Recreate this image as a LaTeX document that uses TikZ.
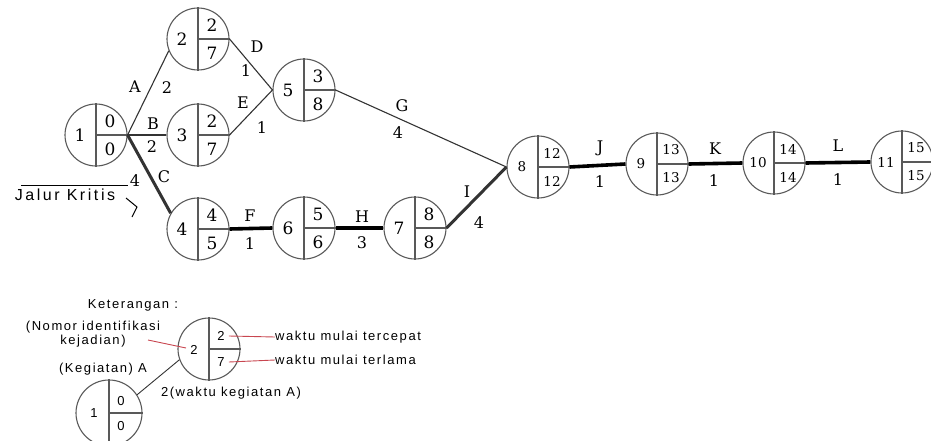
\documentclass[tikz,border=0pt]{standalone}
\usepackage{fontspec}
\setmainfont{DejaVu Serif}
\newfontfamily\lsans{Liberation Sans}[LetterSpace=12]
\newfontfamily\jsans{Liberation Sans}[LetterSpace=16]
\definecolor{legred}{RGB}{200,70,80}
\newcommand\ev[7]{%
 \node[evc] (#1) at (#2,#3) {};
 \draw[inl] (#1.north) -- (#1.south) (#1.center) -- (#1.east);
 \node[#7] (#1n) at ([xshift=-16pt]#1.center) {#4};
 \node[#7] (#1t) at ([xshift=14pt,yshift=14pt]#1.center) {#5};
 \node[#7] (#1b) at ([xshift=14pt,yshift=-14pt]#1.center) {#6};
}
\begin{document}
\begin{tikzpicture}[x=1pt,y=-1pt,
 evc/.style={circle,draw=black!65,line width=1.1pt,minimum size=62pt,inner sep=0pt},
 inl/.style={draw=black!65,line width=1.1pt},
 num/.style={inner sep=0pt,font=\fontsize{17}{17}\selectfont},
 nums/.style={inner sep=0pt,font=\fontsize{13.5}{14}\selectfont},
 lnum/.style={inner sep=0pt,font=\lsans\fontsize{13}{13}\selectfont},
 lab/.style={inner sep=0pt,font=\fontsize{16}{16}\selectfont},
 thinl/.style={draw=black!80,line width=1.1pt},
 crit/.style={draw=black,line width=3.6pt},
 critg/.style={draw=black!80,line width=3pt},
 legt/.style={inner sep=0pt,font=\lsans\fontsize{13}{14}\selectfont,align=center},
 redl/.style={draw=legred,line width=0.9pt}]
\useasboundingbox (0,0) rectangle (931,441);
% events
\ev{n1}{96}{135}{1}{0}{0}{num}
\ev{n2}{198}{39}{2}{2}{7}{num}
\ev{n3}{198}{135}{3}{2}{7}{num}
\ev{n4}{198}{229}{4}{4}{5}{num}
\ev{n5}{304}{90}{5}{3}{8}{num}
\ev{n6}{304}{228}{6}{5}{6}{num}
\ev{n7}{415}{228}{7}{8}{8}{num}
\ev{n8}{538}{167}{8}{12}{12}{nums}
\ev{n9}{657}{164}{9}{13}{13}{nums}
\ev{n10}{774}{163}{10}{14}{14}{nums}
\ev{n11}{902}{162}{11}{15}{15}{nums}
% activities
\draw[thinl] (n1.east) -- (n2.202);
\draw[thinl] (n1.east) -- (n3.west);
\draw[critg] (n1.east) -- (n4.150);
\draw[thinl] (n2.east) -- (n5.west);
\draw[thinl] (n3.east) -- (n5.west);
\draw[thinl] (n5.east) -- (n8.west);
\draw[crit] (n4.east) -- (n6.west);
\draw[crit] (n6.east) -- (n7.west);
\draw[critg] (n7.east) -- (n8.west);
\draw[crit] (n8.east) -- (n9.west);
\draw[crit] (n9.east) -- (n10.west);
\draw[crit] (n10.east) -- (n11.west);
% labels
\node[lab] (lA) at (135,87) {A};   \node[lab] (dA) at (167,88) {2};
\node[lab] (lB) at (153,124) {B};  \node[lab] (dB) at (152,147) {2};
\node[lab] (lC) at (164,177) {C};  \node[lab] (dC) at (135,181) {4};
\node[lab] (lD) at (257,47) {D};   \node[lab] (dD) at (246,71) {1};
\node[lab] (lE) at (243,103) {E};  \node[lab] (dE) at (262,128) {1};
\node[lab] (lF) at (250,216) {F};  \node[lab] (dF) at (250,244) {1};
\node[lab] (lG) at (402,106) {G};  \node[lab] (dG) at (398,133) {4};
\node[lab] (lH) at (362,217) {H};  \node[lab] (dH) at (362,243) {3};
\node[lab] (lI) at (467,192) {I};  \node[lab] (dI) at (479,223) {4};
\node[lab] (lJ) at (600,148) {J};  \node[lab] (dJ) at (600,182) {1};
\node[lab] (lK) at (715,149) {K};  \node[lab] (dK) at (714,181) {1};
\node[lab] (lL) at (838,146) {L};  \node[lab] (dL) at (838,180) {1};
% critical path note
\node[inner sep=0pt,font=\jsans\fontsize{16}{16}\selectfont] (jk) at (65,195) {Jalur Kritis};
\coordinate (jl1) at (21,185);
\coordinate (jl2) at (128,185);
\draw[line width=1pt] (jl1) -- (jl2);
\coordinate (ch1) at (126,198);
\coordinate (ch2) at (137,207);
\coordinate (ch3) at (132,217);
\draw[line width=1pt] (ch1) -- (ch2) -- (ch3);
% legend
\node[legt] (ket) at (133,305) {Keterangan :};
\node[evc,minimum size=62pt] (m2) at (209,349) {};
\draw[inl] (m2.north) -- (m2.south) (m2.center) -- (m2.east);
\node[lnum] (m2n) at (194,350) {2};
\node[lnum] (m2t) at (221,336) {2};
\node[lnum] (m2b) at (221,362) {7};
\node[evc,minimum size=66pt] (m1) at (109,413) {};
\draw[inl] (m1.north) -- (m1.south) (m1.center) -- (m1.east);
\node[lnum] (m1n) at (94,413) {1};
\node[lnum] (m1t) at (121,401) {0};
\node[lnum] (m1b) at (121,426) {0};
\draw[thinl,line width=0.9pt] (m1.33) -- (m2.200);
\node[legt] (nom) at (93,334) {(Nomor identifikasi\\kejadian)};
\node[legt] (keg) at (103,369) {(Kegiatan) A};
\node[legt] (wka) at (231,393) {2(waktu kegiatan A)};
\node[legt,anchor=west] (tc) at (275,337) {waktu mulai tercepat};
\node[legt,anchor=west] (tl) at (275,360) {waktu mulai terlama};
\coordinate (r1) at (148,340);
\coordinate (r2) at (186,348);
\draw[redl] (r1) -- (r2);
\draw[redl] ([xshift=4pt]m2t.east) -- (tc.west);
\draw[redl] ([xshift=4pt]m2b.east) -- (tl.west);
\end{tikzpicture}
\end{document}
